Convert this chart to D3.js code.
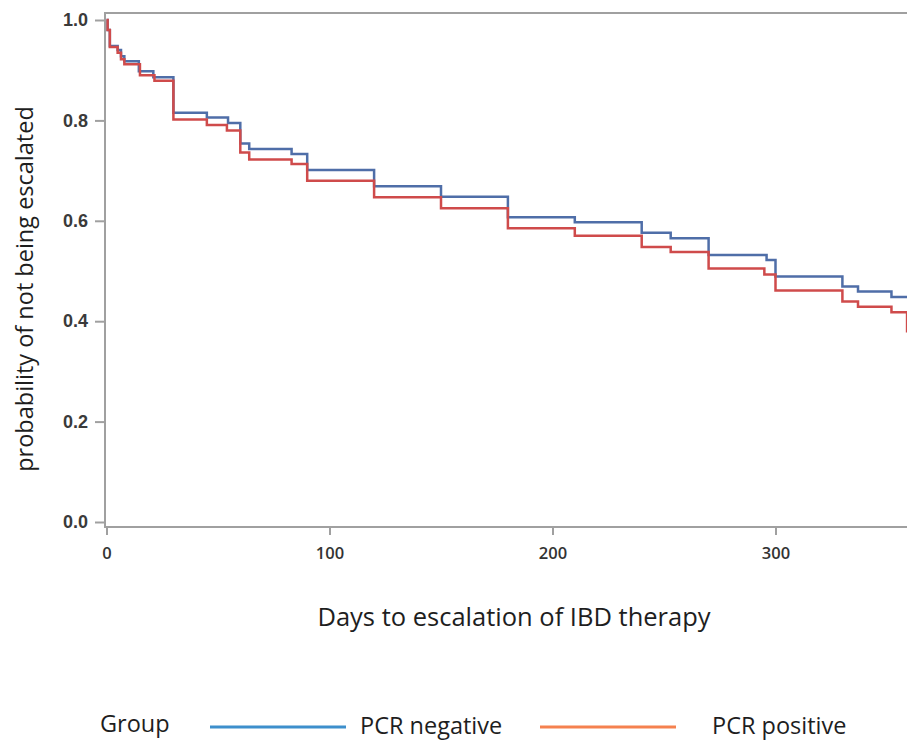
<!DOCTYPE html>
<html>
<head>
<meta charset="utf-8">
<script src="https://cdn.jsdelivr.net/npm/d3@7"></script>
<style>
  body { margin: 0; background: #fff; }
  svg { display: block; }
</style>
</head>
<body>
<div id="chart"></div>
<script>
// step times (days) and survival estimates
var negTimes = [0, 0.5, 1.5, 5, 6.5, 8, 14.5, 21, 30, 45, 54.5, 60, 64, 83, 90, 120, 150, 180, 210, 240, 253, 270, 296, 300, 330, 337, 352];
var negSurv  = [1.0, 0.98, 0.948, 0.94, 0.928, 0.918, 0.898, 0.886, 0.815, 0.806, 0.795, 0.754, 0.743, 0.733, 0.701, 0.669, 0.648, 0.607, 0.597, 0.576, 0.565, 0.532, 0.522, 0.489, 0.469, 0.459, 0.448];
var posTimes = [0, 0.5, 1.5, 5, 6.5, 8, 15, 21.5, 30, 45, 54, 60, 64, 83, 90, 120, 150, 180, 210, 240, 253, 270, 295, 300, 330, 337, 352, 359];
var posSurv  = [1.0, 0.98, 0.946, 0.935, 0.922, 0.912, 0.890, 0.879, 0.802, 0.791, 0.780, 0.736, 0.722, 0.713, 0.680, 0.647, 0.625, 0.585, 0.570, 0.548, 0.538, 0.505, 0.493, 0.461, 0.439, 0.429, 0.418, 0.38];
var endDay = 365;
var xTicks = [0, 100, 200, 300];
var yTicks = [0.0, 0.2, 0.4, 0.6, 0.8, 1.0];
var groups = ["PCR negative", "PCR positive"];

var width = 907, height = 742;

var svg = d3.select("#chart").append("svg")
    .attr("width", width)
    .attr("height", height);

var x = d3.scaleLinear().domain([0, 100]).range([106.5, 329.5]);
var y = d3.scaleLinear().domain([0, 1]).range([522, 20]);

var frameLeft = 105, frameTop = 13, frameBottom = 527, frameRight = x(endDay) + 8;

// plot frame
svg.append("rect")
    .attr("x", frameLeft)
    .attr("y", frameTop)
    .attr("width", frameRight - frameLeft)
    .attr("height", frameBottom - frameTop)
    .attr("fill", "none")
    .attr("stroke", "#a0a0a0")
    .attr("stroke-width", 2);

// y ticks
var gy = svg.append("g").attr("transform", "translate(" + frameLeft + ",0)")
    .call(d3.axisLeft(y).tickValues(yTicks).tickSize(10).tickFormat(d3.format(".1f")));
gy.select(".domain").remove();
gy.selectAll("line").attr("stroke", "#a0a0a0").attr("stroke-width", 2);
gy.selectAll("text")
    .attr("x", -17)
    .attr("fill", "#3a3a3a")
    .style("font-family", "Liberation Sans, Arial, sans-serif")
    .style("font-weight", "bold")
    .style("font-size", "18px");

// x ticks
var gx = svg.append("g").attr("transform", "translate(0," + frameBottom + ")")
    .call(d3.axisBottom(x).tickValues(xTicks).tickSize(8).tickFormat(d3.format("d")));
gx.select(".domain").remove();
gx.selectAll("line").attr("stroke", "#a0a0a0").attr("stroke-width", 2);
gx.selectAll("text")
    .attr("y", 20)
    .attr("fill", "#333")
    .style("font-family", "Open Sans, sans-serif")
    .style("font-weight", "600")
    .style("font-size", "16.5px");

// step curves
var line = d3.line()
    .x(function (d) { return x(d[0]); })
    .y(function (d) { return y(d[1]); })
    .curve(d3.curveStepAfter);

function steps(times, surv) {
    var pts = times.map(function (t, i) { return [t, surv[i]]; });
    pts.push([endDay, surv[surv.length - 1]]);
    return pts;
}

var curves = [
    { pts: steps(negTimes, negSurv), color: "#4f6ea8" },
    { pts: steps(posTimes, posSurv), color: "#cf4b4b" }
];

svg.selectAll(".km")
    .data(curves)
    .enter()
    .append("path")
    .attr("class", "km")
    .attr("d", function (d) { return line(d.pts); })
    .attr("fill", "none")
    .attr("stroke", function (d) { return d.color; })
    .attr("stroke-width", 2.5);

// axis titles
svg.append("text")
    .attr("x", 514)
    .attr("y", 626)
    .attr("text-anchor", "middle")
    .attr("fill", "#1e1e1e")
    .style("font-family", "Open Sans, sans-serif")
    .style("font-size", "25.5px")
    .text("Days to escalation of IBD therapy");

svg.append("text")
    .attr("transform", "translate(33,289) rotate(-90)")
    .attr("text-anchor", "middle")
    .attr("fill", "#1e1e1e")
    .style("font-family", "Open Sans, sans-serif")
    .style("font-size", "23.5px")
    .text("probability of not being escalated");

// legend
var legend = svg.append("g").style("font-family", "Open Sans, sans-serif").style("font-size", "23.5px");
legend.append("text").attr("x", 100).attr("y", 732).attr("fill", "#1e1e1e").text("Group");
var legendColors = ["#3d8fcc", "#f5814f"];
var lx = [210, 540];
var tx = [360, 712];
groups.forEach(function (g, i) {
    legend.append("line")
        .attr("x1", lx[i]).attr("x2", lx[i] + 136)
        .attr("y1", 727).attr("y2", 727)
        .attr("stroke", legendColors[i])
        .attr("stroke-width", 3);
    legend.append("text")
        .attr("x", tx[i])
        .attr("y", 734)
        .attr("fill", "#1e1e1e")
        .text(g);
});
</script>
</body>
</html>
